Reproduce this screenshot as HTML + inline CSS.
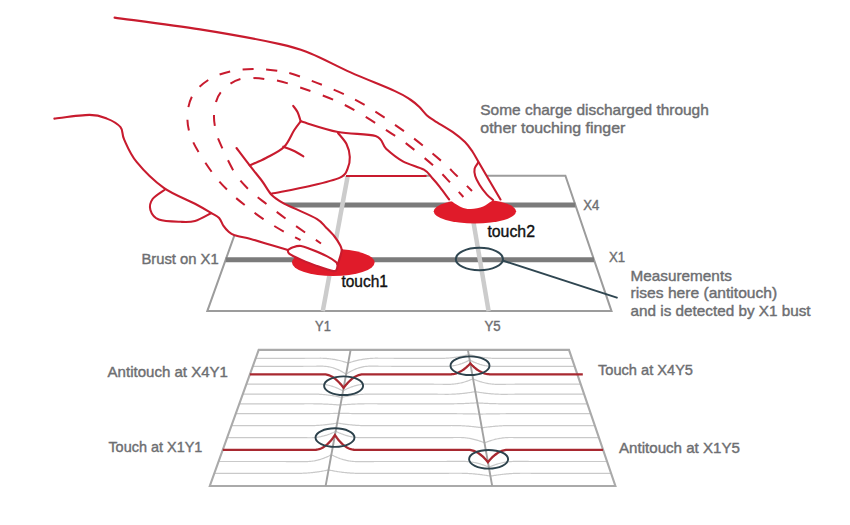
<!DOCTYPE html>
<html><head><meta charset="utf-8"><title>Touch diagram</title>
<style>html,body{margin:0;padding:0;background:#fff;} body{width:850px;height:525px;overflow:hidden;font-family:"Liberation Sans",sans-serif;} svg{display:block;}</style>
</head><body>
<svg width="850" height="525" viewBox="0 0 850 525">
<rect width="850" height="525" fill="#fff"/>
<g><path d="M255.7,175.8 L565.4,175.8 L611.5,311.1 L207.3,311.1 Z" fill="none" stroke="#9c9c9c" stroke-width="2"/><line x1="245.2" y1="205.0" x2="575.3" y2="205.0" stroke="#7b7b7b" stroke-width="5"/><line x1="225.7" y1="259.7" x2="594.0" y2="259.7" stroke="#7b7b7b" stroke-width="5"/><line x1="347.7" y1="175.8" x2="322.8" y2="311.1" stroke="#cccccc" stroke-width="4.5"/><line x1="465.6" y1="175.8" x2="488.6" y2="311.1" stroke="#cccccc" stroke-width="4.5"/></g>
<g><ellipse cx="333.3" cy="262.5" rx="41.3" ry="13.4" fill="#e01b2a"/><ellipse cx="474.9" cy="211.3" rx="41.2" ry="12.2" fill="#e01b2a"/></g>
<g><path d="M114.6,17.6 C128.8,19.6 172.4,25.0 200.0,29.4 C227.6,33.8 261.6,40.1 280.0,44.1 C298.4,48.1 298.8,48.8 310.6,53.5 C322.4,58.2 336.5,66.1 350.6,72.4 C364.7,78.7 385.1,86.6 395.0,91.1 C404.9,95.6 406.1,96.8 410.2,99.5 C414.3,102.2 416.6,104.4 419.4,107.1 C422.2,109.8 424.5,113.2 427.0,115.5 C429.5,117.8 430.3,118.0 434.6,120.8 C438.9,123.6 447.8,128.6 452.9,132.2 C458.0,135.8 461.7,138.8 465.0,142.1 C468.3,145.4 470.1,148.2 472.7,152.0 C475.2,155.8 475.7,157.1 480.3,165.0 C484.9,172.9 497.1,193.8 500.5,199.5 C499.1,199.7 494.8,199.7 491.9,200.9 C489.0,202.1 486.7,205.2 483.2,206.5 C479.7,207.8 474.5,208.9 470.8,209.0 C467.1,209.1 464.5,208.6 460.9,207.0 C457.3,205.4 451.1,200.8 449.2,199.5 C447.6,197.4 442.7,190.7 439.9,187.1 C437.1,183.5 434.9,180.9 432.2,178.0 C429.5,175.1 428.8,172.5 423.9,169.7 C419.0,166.9 409.2,164.8 402.9,161.3 C396.6,157.8 388.9,150.8 386.1,148.7 L426.5,176 L346,176 L340,177.6 C335.0,179.0 321.3,183.3 310.0,186.0 C298.7,188.7 278.3,192.2 272.0,193.5 C271.9,193.8 269.7,193.3 271.7,195.0 C273.7,196.7 280.2,201.4 284.1,203.7 C288.0,206.0 289.5,206.0 295.0,208.6 C300.5,211.2 311.9,215.9 317.1,219.1 C322.3,222.2 323.1,224.6 326.0,227.5 C328.9,230.4 332.1,233.5 334.5,236.5 C336.9,239.5 339.1,243.1 340.3,245.4 C341.5,247.7 341.6,249.3 341.8,250.1 C341.6,251.1 341.0,254.0 340.3,256.4 C339.6,258.8 338.1,263.0 337.6,264.3 C337.5,265.1 337.5,267.9 336.8,269.0 C336.1,270.1 336.8,271.6 333.4,271.1 C330.0,270.6 322.1,267.8 316.7,265.9 C311.3,264.0 305.6,261.6 301.0,259.6 C296.4,257.6 291.6,255.4 289.4,253.8 C287.2,252.2 288.1,250.7 287.9,250.1 C284.8,249.2 275.5,246.4 269.3,244.5 C263.1,242.6 256.5,240.5 250.7,238.9 C244.9,237.3 238.3,236.4 234.6,235.2 C230.9,234.0 230.2,233.1 228.4,231.5 C226.6,229.9 225.1,228.2 223.5,225.9 C221.9,223.6 221.2,220.1 219.1,217.9 C217.0,215.7 215.1,215.3 211.1,212.9 C207.1,210.5 202.9,207.9 195.0,203.7 C187.1,199.5 173.5,194.9 163.8,187.9 C154.1,180.9 143.2,170.0 136.6,161.9 C130.0,153.8 126.9,145.4 124.2,139.6 C121.5,133.8 123.4,130.7 120.5,127.2 C117.6,123.7 112.1,120.6 106.9,118.6 C101.7,116.5 98.2,114.9 89.5,114.9 C80.8,114.9 60.2,118.0 54.4,118.6 Z" fill="#fff" stroke="none"/><path d="M165.0,189.5 C162.9,191.1 155.0,195.6 152.6,199.0 C150.2,202.4 149.4,206.6 150.4,210.0 C151.4,213.4 153.8,217.5 158.8,219.5 C163.8,221.5 174.6,221.6 180.6,221.8 C186.6,222.1 189.9,222.4 195.0,221.0 C200.1,219.6 208.4,214.5 211.1,213.2 Z" fill="#fff" stroke="none"/><path d="M287.9,250.1 C288.8,249.6 290.8,247.9 293.0,247.2 C295.2,246.5 297.9,245.6 301.0,246.0 C304.1,246.4 307.0,247.9 311.4,249.6 C315.8,251.3 323.2,254.4 327.2,256.4 C331.2,258.4 333.8,260.4 335.5,261.7 C337.2,263.0 337.4,263.1 337.6,264.3 C337.8,265.5 337.5,267.9 336.8,269.0 C336.1,270.1 336.8,271.6 333.4,271.1 C330.0,270.6 322.1,267.8 316.7,265.9 C311.3,264.0 305.6,261.6 301.0,259.6 C296.4,257.6 291.6,255.4 289.4,253.8 C287.2,252.2 288.1,250.7 287.9,250.1 Z" fill="#fff" stroke="none"/><path d="M114.6,17.6 C128.8,19.6 172.4,25.0 200.0,29.4 C227.6,33.8 261.6,40.1 280.0,44.1 C298.4,48.1 298.8,48.8 310.6,53.5 C322.4,58.2 336.5,66.1 350.6,72.4 C364.7,78.7 385.1,86.6 395.0,91.1 C404.9,95.6 406.1,96.8 410.2,99.5 C414.3,102.2 416.6,104.4 419.4,107.1 C422.2,109.8 424.5,113.2 427.0,115.5 C429.5,117.8 430.3,118.0 434.6,120.8 C438.9,123.6 447.8,128.6 452.9,132.2 C458.0,135.8 461.7,138.8 465.0,142.1 C468.3,145.4 470.1,148.2 472.7,152.0 C475.2,155.8 475.7,157.1 480.3,165.0 C484.9,172.9 497.1,193.8 500.5,199.5" fill="none" stroke="#c81b2e" stroke-width="2.1" stroke-linecap="round" stroke-linejoin="round"/><path d="M300.7,121.3 C306.9,123.1 325.5,129.5 338.0,132.0 C350.5,134.5 367.6,133.3 375.6,136.1 C383.6,138.9 381.6,144.5 386.1,148.7 C390.7,152.9 396.6,157.8 402.9,161.3 C409.2,164.8 419.0,166.9 423.9,169.7 C428.8,172.5 429.5,175.1 432.2,178.0 C434.9,180.9 437.1,183.5 439.9,187.1 C442.7,190.7 447.6,197.4 449.2,199.5" fill="none" stroke="#c81b2e" stroke-width="2.1" stroke-linecap="round" stroke-linejoin="round"/><path d="M338.0,133.0 C339.4,134.8 344.5,140.0 346.5,144.0 C348.5,148.0 349.6,152.8 349.8,157.0 C350.0,161.2 349.1,165.6 347.5,169.0 C345.9,172.4 346.2,174.8 340.0,177.6 C333.8,180.4 321.3,183.3 310.0,186.0 C298.7,188.7 278.3,192.2 272.0,193.5" fill="none" stroke="#c81b2e" stroke-width="2.1" stroke-linecap="round" stroke-linejoin="round"/><path d="M236.5,148.0 C238.7,150.9 245.4,159.9 249.7,165.4 C253.9,170.9 258.3,176.1 262.0,181.0 C265.7,185.9 268.0,191.2 271.7,195.0 C275.4,198.8 280.2,201.4 284.1,203.7 C288.0,206.0 289.5,206.0 295.0,208.6 C300.5,211.2 311.9,215.9 317.1,219.1 C322.3,222.2 323.1,224.6 326.0,227.5 C328.9,230.4 332.1,233.5 334.5,236.5 C336.9,239.5 339.1,243.1 340.3,245.4 C341.5,247.7 341.6,249.3 341.8,250.1" fill="none" stroke="#c81b2e" stroke-width="2.1" stroke-linecap="round" stroke-linejoin="round"/><path d="M341.8,250.1 C341.6,251.1 341.0,254.0 340.3,256.4 C339.6,258.8 338.1,263.0 337.6,264.3" fill="none" stroke="#c81b2e" stroke-width="2.1" stroke-linecap="round" stroke-linejoin="round"/><path d="M287.9,250.1 C288.8,249.6 290.8,247.9 293.0,247.2 C295.2,246.5 297.9,245.6 301.0,246.0 C304.1,246.4 307.0,247.9 311.4,249.6 C315.8,251.3 323.2,254.4 327.2,256.4 C331.2,258.4 333.8,260.4 335.5,261.7 C337.2,263.0 337.2,263.9 337.6,264.3" fill="none" stroke="#c81b2e" stroke-width="2.1" stroke-linecap="round" stroke-linejoin="round"/><path d="M337.6,264.3 C337.5,265.1 337.5,267.9 336.8,269.0 C336.1,270.1 336.8,271.6 333.4,271.1 C330.0,270.6 322.1,267.8 316.7,265.9 C311.3,264.0 305.6,261.6 301.0,259.6 C296.4,257.6 291.6,255.4 289.4,253.8 C287.2,252.2 288.1,250.7 287.9,250.1" fill="none" stroke="#c81b2e" stroke-width="2.1" stroke-linecap="round" stroke-linejoin="round"/><path d="M54.4,118.6 C60.2,118.0 80.8,114.9 89.5,114.9 C98.2,114.9 101.7,116.5 106.9,118.6 C112.1,120.6 117.6,123.7 120.5,127.2 C123.4,130.7 121.5,133.8 124.2,139.6 C126.9,145.4 130.0,153.8 136.6,161.9 C143.2,170.0 154.1,180.9 163.8,187.9 C173.5,194.9 187.1,199.5 195.0,203.7 C202.9,207.9 207.1,210.5 211.1,212.9 C215.1,215.3 217.0,215.7 219.1,217.9 C221.2,220.1 221.9,223.6 223.5,225.9 C225.1,228.2 226.6,229.9 228.4,231.5 C230.2,233.1 230.9,234.0 234.6,235.2 C238.3,236.4 244.9,237.3 250.7,238.9 C256.5,240.5 263.1,242.6 269.3,244.5 C275.5,246.4 284.8,249.2 287.9,250.1" fill="none" stroke="#c81b2e" stroke-width="2.1" stroke-linecap="round" stroke-linejoin="round"/><path d="M165.0,189.5 C162.9,191.1 155.0,195.6 152.6,199.0 C150.2,202.4 149.4,206.6 150.4,210.0 C151.4,213.4 153.8,217.5 158.8,219.5 C163.8,221.5 174.6,221.6 180.6,221.8 C186.6,222.1 189.9,222.4 195.0,221.0 C200.1,219.6 208.4,214.5 211.1,213.2" fill="none" stroke="#c81b2e" stroke-width="2.1" stroke-linecap="round" stroke-linejoin="round"/><path d="M293.2,105.9 C293.9,106.9 296.2,109.4 297.5,112.0 C298.8,114.6 300.2,119.8 300.7,121.3" fill="none" stroke="#c81b2e" stroke-width="2.1" stroke-linecap="round" stroke-linejoin="round"/><path d="M300.7,121.3 C299.6,122.8 297.1,125.7 294.3,130.0 C291.5,134.3 288.7,142.4 284.0,147.1 C279.3,151.8 271.7,154.9 266.0,158.0 C260.3,161.1 252.4,164.2 249.7,165.4" fill="none" stroke="#c81b2e" stroke-width="2.1" stroke-linecap="round" stroke-linejoin="round"/><path d="M283.3,146.7 C284.9,147.3 289.6,148.9 293.0,150.5 C296.4,152.1 301.7,155.3 303.4,156.3" fill="none" stroke="#c81b2e" stroke-width="2.1" stroke-linecap="round" stroke-linejoin="round"/><path d="M478.3,162.4 C477.7,163.4 475.1,166.3 474.6,168.6 C474.1,170.9 474.4,173.3 475.2,176.0 C476.0,178.7 477.6,181.6 479.5,184.7 C481.4,187.8 484.6,192.0 486.9,194.6 C489.2,197.2 492.1,199.2 493.1,200.1" fill="none" stroke="#c81b2e" stroke-width="2.1" stroke-linecap="round" stroke-linejoin="round"/><path d="M426.5,176 L346,176" fill="none" stroke="#c81b2e" stroke-width="2"/><path id="od" d="M472.0,191.0 C469.3,188.3 461.1,179.9 456.0,175.0 C450.9,170.1 450.2,168.5 441.7,161.3 C433.2,154.1 419.5,142.2 405.0,131.9 C390.5,121.6 372.2,108.6 354.7,99.4 C337.2,90.2 313.3,81.3 300.0,76.5 C286.7,71.7 282.8,71.7 275.0,70.5 C267.2,69.3 260.6,68.9 253.1,69.1 C245.6,69.2 237.7,69.6 230.2,71.4 C222.7,73.2 214.7,75.9 208.3,80.0 C202.0,84.1 195.6,89.7 192.1,96.2 C188.6,102.7 187.2,111.4 187.4,119.0 C187.6,126.6 189.0,133.0 193.1,141.9 C197.2,150.8 206.2,164.2 212.0,172.3 C217.8,180.4 222.5,185.1 228.0,190.6 C233.5,196.1 239.2,200.7 245.1,205.4 C251.0,210.2 256.9,214.7 263.4,219.1 C269.9,223.5 277.8,228.2 284.0,231.7 C290.2,235.2 297.8,238.6 300.5,240.0" fill="none" stroke="#c81b2e" stroke-width="2" stroke-dasharray="11 12.6" stroke-dashoffset="3.6"/><path id="id" d="M463.4,197.0 C461.3,194.7 456.0,188.7 451.0,183.4 C446.0,178.2 440.7,172.1 433.3,165.5 C425.9,158.9 412.7,148.5 406.4,143.6 C400.1,138.7 406.0,142.6 395.6,136.1 C385.2,129.6 362.1,113.5 344.2,104.7 C326.3,95.9 301.5,87.8 288.2,83.5 C274.9,79.2 270.4,79.9 264.5,79.0 C258.6,78.1 257.1,78.1 253.1,78.1 C249.1,78.1 244.5,78.0 240.7,79.0 C236.9,80.0 233.5,81.6 230.2,83.8 C226.9,86.0 223.1,89.4 220.7,92.4 C218.3,95.4 217.1,98.1 216.0,101.9 C214.9,105.7 214.2,111.1 214.0,115.2 C213.8,119.3 214.3,122.9 215.0,126.7 C215.7,130.5 214.8,130.7 217.9,138.1 C221.0,145.5 228.6,162.5 233.7,171.1 C238.8,179.7 243.1,183.9 248.6,189.4 C254.1,194.9 260.6,199.4 266.9,204.3 C273.2,209.2 279.8,214.3 286.3,219.1 C292.8,223.9 299.9,228.8 305.7,232.9 C311.5,237.0 318.4,241.7 321.0,243.5" fill="none" stroke="#c81b2e" stroke-width="2" stroke-dasharray="11 13" stroke-dashoffset="4.0"/></g>
<g><ellipse cx="479.4" cy="259" rx="23.6" ry="11.2" fill="none" stroke="#2f4651" stroke-width="2"/><line x1="502.5" y1="260.5" x2="617.6" y2="297.9" stroke="#2f4651" stroke-width="2"/></g>
<g><path d="M255.7,358.30 L283.35,358.30 L284.35,358.30 L285.35,358.30 L286.35,358.30 L287.35,358.30 L288.35,358.30 L289.35,358.30 L290.35,358.30 L291.35,358.30 L292.35,358.30 L293.35,358.29 L294.35,358.29 L295.35,358.29 L296.35,358.29 L297.35,358.29 L298.35,358.29 L299.35,358.29 L300.35,358.28 L301.35,358.28 L302.35,358.28 L303.35,358.28 L304.35,358.28 L305.35,358.27 L306.35,358.27 L307.35,358.27 L308.35,358.27 L309.35,358.26 L310.35,358.26 L311.35,358.26 L312.35,358.25 L313.35,358.25 L314.35,358.25 L315.35,358.24 L316.35,358.24 L317.35,358.24 L318.35,358.23 L319.35,358.23 L320.35,358.22 L321.35,358.23 L322.35,358.25 L323.35,358.28 L324.35,358.32 L325.35,358.38 L326.35,358.45 L327.35,358.53 L328.35,358.62 L329.35,358.73 L330.35,358.85 L331.35,358.98 L332.35,359.13 L333.35,359.29 L334.35,359.46 L335.35,359.64 L336.35,359.84 L337.35,360.05 L338.35,360.27 L339.35,360.51 L340.35,360.75 L341.35,361.01 L342.35,361.29 L343.35,361.57 L344.35,361.87 L345.35,362.19 L346.35,362.51 L347.35,362.85 L348.13,363.12 L348.35,363.04 L349.10,362.77 L349.35,362.68 L350.35,362.35 L351.35,362.03 L352.35,361.73 L353.35,361.43 L354.35,361.15 L355.35,360.89 L356.35,360.63 L357.35,360.39 L358.35,360.16 L359.35,359.94 L360.35,359.74 L361.35,359.55 L362.35,359.37 L363.35,359.20 L364.35,359.05 L365.35,358.91 L366.35,358.78 L367.35,358.67 L368.35,358.57 L369.35,358.48 L370.35,358.40 L371.35,358.34 L372.35,358.29 L373.35,358.25 L374.35,358.23 L375.35,358.22 L376.35,358.22 L377.35,358.22 L378.35,358.23 L379.35,358.23 L380.35,358.23 L381.35,358.24 L382.35,358.24 L383.35,358.24 L384.35,358.25 L385.35,358.25 L386.35,358.25 L387.35,358.26 L388.35,358.26 L389.35,358.26 L390.35,358.27 L391.35,358.27 L392.35,358.27 L393.35,358.27 L394.35,358.28 L395.35,358.28 L396.35,358.28 L397.35,358.28 L398.35,358.28 L399.35,358.29 L400.35,358.29 L401.35,358.29 L402.35,358.29 L403.35,358.29 L404.35,358.29 L405.35,358.30 L406.35,358.30 L407.35,358.30 L408.35,358.30 L409.35,358.30 L410.35,358.30 L411.35,358.30 L412.35,358.30 L413.35,358.30 L414.35,358.31 L415.35,358.31 L416.35,358.31 L417.35,358.31 L418.35,358.31 L419.35,358.31 L420.35,358.31 L421.35,358.31 L422.35,358.32 L423.35,358.32 L424.35,358.32 L425.35,358.32 L426.35,358.32 L427.35,358.33 L428.35,358.33 L429.35,358.33 L430.35,358.33 L431.35,358.34 L432.35,358.34 L433.35,358.34 L434.35,358.34 L435.35,358.35 L436.35,358.35 L437.35,358.35 L438.35,358.36 L439.35,358.36 L440.35,358.36 L441.35,358.36 L442.35,358.36 L443.35,358.34 L444.35,358.31 L445.35,358.27 L446.35,358.22 L447.35,358.16 L448.35,358.09 L449.35,358.01 L450.35,357.92 L451.35,357.82 L452.35,357.71 L453.35,357.59 L454.35,357.45 L455.35,357.31 L456.35,357.16 L457.35,357.00 L458.35,356.83 L459.35,356.64 L460.35,356.45 L461.35,356.25 L462.35,356.03 L463.35,355.81 L464.35,355.58 L465.35,355.33 L466.35,355.08 L467.35,354.81 L468.35,354.54 L468.68,354.45 L469.35,354.64 L469.44,354.67 L470.35,354.92 L471.35,355.18 L472.35,355.43 L473.35,355.67 L474.35,355.90 L475.35,356.12 L476.35,356.33 L477.35,356.53 L478.35,356.72 L479.35,356.89 L480.35,357.06 L481.35,357.22 L482.35,357.37 L483.35,357.51 L484.35,357.64 L485.35,357.75 L486.35,357.86 L487.35,357.96 L488.35,358.04 L489.35,358.12 L490.35,358.19 L491.35,358.24 L492.35,358.29 L493.35,358.32 L494.35,358.35 L495.35,358.37 L496.35,358.37 L497.35,358.37 L498.35,358.36 L499.35,358.36 L500.35,358.36 L501.35,358.35 L502.35,358.35 L503.35,358.35 L504.35,358.34 L505.35,358.34 L506.35,358.34 L507.35,358.34 L508.35,358.33 L509.35,358.33 L510.35,358.33 L511.35,358.33 L512.35,358.32 L513.35,358.32 L514.35,358.32 L515.35,358.32 L516.35,358.32 L517.35,358.31 L518.35,358.31 L519.35,358.31 L520.35,358.31 L521.35,358.31 L522.35,358.31 L523.35,358.31 L524.35,358.31 L525.35,358.30 L526.35,358.30 L527.35,358.30 L528.35,358.30 L529.35,358.30 L530.35,358.30 L531.35,358.30 L532.35,358.30 L533.35,358.30 L534.35,358.30 L535.19,358.30 L571.86,358.30" fill="none" stroke="#c9c9c9" stroke-width="1.2"/><path d="M252.8,366.30 L285.90,366.30 L286.90,366.30 L287.90,366.30 L288.90,366.30 L289.90,366.30 L290.90,366.30 L291.90,366.30 L292.90,366.30 L293.90,366.29 L294.90,366.29 L295.90,366.29 L296.90,366.29 L297.90,366.29 L298.90,366.29 L299.90,366.28 L300.90,366.28 L301.90,366.28 L302.90,366.28 L303.90,366.27 L304.90,366.27 L305.90,366.27 L306.90,366.26 L307.90,366.26 L308.90,366.26 L309.90,366.25 L310.90,366.25 L311.90,366.25 L312.90,366.24 L313.90,366.24 L314.90,366.23 L315.90,366.23 L316.90,366.22 L317.90,366.22 L318.90,366.21 L319.90,366.21 L320.90,366.20 L321.90,366.20 L322.90,366.20 L323.90,366.23 L324.90,366.29 L325.90,366.38 L326.90,366.50 L327.90,366.64 L328.90,366.81 L329.90,367.01 L330.90,367.24 L331.90,367.50 L332.90,367.79 L333.90,368.10 L334.90,368.45 L335.90,368.82 L336.90,369.22 L337.90,369.64 L338.90,370.10 L339.90,370.58 L340.90,371.10 L341.90,371.64 L342.90,372.21 L343.90,372.80 L344.90,373.43 L345.90,374.08 L346.08,374.21 L346.90,373.65 L347.65,373.16 L347.90,373.00 L348.90,372.39 L349.90,371.81 L350.90,371.26 L351.90,370.74 L352.90,370.25 L353.90,369.78 L354.90,369.34 L355.90,368.93 L356.90,368.55 L357.90,368.20 L358.90,367.88 L359.90,367.58 L360.90,367.31 L361.90,367.07 L362.90,366.86 L363.90,366.68 L364.90,366.52 L365.90,366.40 L366.90,366.30 L367.90,366.23 L368.90,366.19 L369.90,366.18 L370.90,366.18 L371.90,366.19 L372.90,366.19 L373.90,366.20 L374.90,366.20 L375.90,366.21 L376.90,366.22 L377.90,366.22 L378.90,366.23 L379.90,366.23 L380.90,366.23 L381.90,366.24 L382.90,366.24 L383.90,366.25 L384.90,366.25 L385.90,366.26 L386.90,366.26 L387.90,366.26 L388.90,366.27 L389.90,366.27 L390.90,366.27 L391.90,366.28 L392.90,366.28 L393.90,366.28 L394.90,366.28 L395.90,366.29 L396.90,366.29 L397.90,366.29 L398.90,366.29 L399.90,366.29 L400.90,366.29 L401.90,366.30 L402.90,366.30 L403.90,366.30 L404.90,366.30 L405.90,366.30 L406.90,366.30 L407.90,366.30 L408.90,366.30 L409.90,366.30 L410.90,366.30 L411.90,366.30 L412.90,366.30 L413.90,366.30 L414.90,366.30 L415.90,366.30 L416.90,366.30 L417.90,366.31 L418.90,366.31 L419.90,366.31 L420.90,366.31 L421.90,366.31 L422.90,366.31 L423.90,366.31 L424.90,366.32 L425.90,366.32 L426.90,366.32 L427.90,366.32 L428.90,366.33 L429.90,366.33 L430.90,366.33 L431.90,366.33 L432.90,366.34 L433.90,366.34 L434.90,366.34 L435.90,366.35 L436.90,366.35 L437.90,366.36 L438.90,366.36 L439.90,366.36 L440.90,366.37 L441.90,366.37 L442.90,366.38 L443.90,366.38 L444.90,366.39 L445.90,366.39 L446.90,366.38 L447.90,366.34 L448.90,366.29 L449.90,366.21 L450.90,366.10 L451.90,365.98 L452.90,365.83 L453.90,365.66 L454.90,365.47 L455.90,365.25 L456.90,365.01 L457.90,364.75 L458.90,364.46 L459.90,364.16 L460.90,363.83 L461.90,363.48 L462.90,363.10 L463.90,362.70 L464.90,362.28 L465.90,361.84 L466.90,361.37 L467.90,360.89 L468.90,360.38 L469.65,359.98 L469.90,360.11 L470.87,360.63 L470.90,360.65 L471.90,361.15 L472.90,361.63 L473.90,362.08 L474.90,362.51 L475.90,362.92 L476.90,363.31 L477.90,363.67 L478.90,364.01 L479.90,364.33 L480.90,364.62 L481.90,364.90 L482.90,365.15 L483.90,365.37 L484.90,365.58 L485.90,365.76 L486.90,365.92 L487.90,366.06 L488.90,366.17 L489.90,366.26 L490.90,366.33 L491.90,366.38 L492.90,366.40 L493.90,366.40 L494.90,366.40 L495.90,366.39 L496.90,366.39 L497.90,366.38 L498.90,366.38 L499.90,366.37 L500.90,366.37 L501.90,366.36 L502.90,366.36 L503.90,366.36 L504.90,366.35 L505.90,366.35 L506.90,366.34 L507.90,366.34 L508.90,366.34 L509.90,366.33 L510.90,366.33 L511.90,366.33 L512.90,366.33 L513.90,366.32 L514.90,366.32 L515.90,366.32 L516.90,366.32 L517.90,366.31 L518.90,366.31 L519.90,366.31 L520.90,366.31 L521.90,366.31 L522.90,366.31 L523.90,366.31 L524.90,366.30 L525.90,366.30 L526.90,366.30 L527.90,366.30 L528.90,366.30 L529.90,366.30 L530.90,366.30 L531.90,366.30 L532.62,366.30 L574.59,366.30" fill="none" stroke="#c9c9c9" stroke-width="1.2"/><path d="M246.4,384.20 L291.60,384.20 L292.60,384.20 L293.60,384.20 L294.60,384.20 L295.60,384.20 L296.60,384.20 L297.60,384.19 L298.60,384.19 L299.60,384.19 L300.60,384.18 L301.60,384.18 L302.60,384.18 L303.60,384.17 L304.60,384.17 L305.60,384.16 L306.60,384.16 L307.60,384.15 L308.60,384.14 L309.60,384.14 L310.60,384.13 L311.60,384.12 L312.60,384.11 L313.60,384.11 L314.60,384.10 L315.60,384.09 L316.60,384.08 L317.60,384.07 L318.60,384.06 L319.60,384.08 L320.60,384.11 L321.60,384.18 L322.60,384.26 L323.60,384.37 L324.60,384.50 L325.60,384.65 L326.60,384.83 L327.60,385.02 L328.60,385.25 L329.60,385.49 L330.60,385.76 L331.60,386.05 L332.60,386.37 L333.60,386.70 L334.60,387.06 L335.60,387.45 L336.60,387.85 L337.60,388.28 L338.60,388.73 L339.60,389.21 L340.60,389.71 L341.60,390.23 L342.60,390.77 L342.96,390.98 L343.60,390.60 L344.40,390.13 L344.60,390.03 L345.60,389.51 L346.60,389.02 L347.60,388.55 L348.60,388.11 L349.60,387.69 L350.60,387.29 L351.60,386.91 L352.60,386.56 L353.60,386.23 L354.60,385.92 L355.60,385.64 L356.60,385.38 L357.60,385.14 L358.60,384.93 L359.60,384.73 L360.60,384.57 L361.60,384.42 L362.60,384.30 L363.60,384.20 L364.60,384.12 L365.60,384.07 L366.60,384.04 L367.60,384.03 L368.60,384.04 L369.60,384.05 L370.60,384.06 L371.60,384.07 L372.60,384.08 L373.60,384.09 L374.60,384.10 L375.60,384.11 L376.60,384.12 L377.60,384.13 L378.60,384.13 L379.60,384.14 L380.60,384.15 L381.60,384.15 L382.60,384.16 L383.60,384.16 L384.60,384.17 L385.60,384.17 L386.60,384.18 L387.60,384.18 L388.60,384.19 L389.60,384.19 L390.60,384.19 L391.60,384.19 L392.60,384.20 L393.60,384.20 L394.60,384.20 L395.60,384.20 L396.60,384.20 L397.20,384.20 L421.30,384.20 L422.30,384.20 L423.30,384.20 L424.30,384.20 L425.30,384.20 L426.30,384.20 L427.30,384.21 L428.30,384.21 L429.30,384.21 L430.30,384.21 L431.30,384.22 L432.30,384.22 L433.30,384.22 L434.30,384.23 L435.30,384.23 L436.30,384.24 L437.30,384.24 L438.30,384.25 L439.30,384.25 L440.30,384.26 L441.30,384.27 L442.30,384.27 L443.30,384.28 L444.30,384.29 L445.30,384.29 L446.30,384.30 L447.30,384.31 L448.30,384.32 L449.30,384.31 L450.30,384.29 L451.30,384.25 L452.30,384.19 L453.30,384.11 L454.30,384.01 L455.30,383.89 L456.30,383.76 L457.30,383.60 L458.30,383.43 L459.30,383.24 L460.30,383.03 L461.30,382.81 L462.30,382.56 L463.30,382.30 L464.30,382.02 L465.30,381.71 L466.30,381.40 L467.30,381.06 L468.30,380.70 L469.30,380.33 L470.30,379.93 L471.30,379.52 L472.30,379.09 L472.98,378.79 L473.30,378.95 L474.10,379.32 L474.30,379.41 L475.30,379.83 L476.30,380.22 L477.30,380.61 L478.30,380.97 L479.30,381.31 L480.30,381.64 L481.30,381.94 L482.30,382.23 L483.30,382.50 L484.30,382.75 L485.30,382.98 L486.30,383.20 L487.30,383.39 L488.30,383.57 L489.30,383.73 L490.30,383.87 L491.30,383.99 L492.30,384.10 L493.30,384.18 L494.30,384.25 L495.30,384.30 L496.30,384.33 L497.30,384.34 L498.30,384.33 L499.30,384.32 L500.30,384.32 L501.30,384.31 L502.30,384.30 L503.30,384.29 L504.30,384.28 L505.30,384.28 L506.30,384.27 L507.30,384.26 L508.30,384.26 L509.30,384.25 L510.30,384.24 L511.30,384.24 L512.30,384.23 L513.30,384.23 L514.30,384.23 L515.30,384.22 L516.30,384.22 L517.30,384.22 L518.30,384.21 L519.30,384.21 L520.30,384.21 L521.30,384.21 L522.30,384.20 L523.30,384.20 L524.30,384.20 L525.30,384.20 L526.30,384.20 L526.90,384.20 L580.70,384.20" fill="none" stroke="#c9c9c9" stroke-width="1.2"/><path d="M242.8,394.20 L294.81,394.20 L295.81,394.20 L296.81,394.20 L297.81,394.20 L298.81,394.19 L299.81,394.19 L300.81,394.19 L301.81,394.18 L302.81,394.18 L303.81,394.17 L304.81,394.17 L305.81,394.16 L306.81,394.15 L307.81,394.14 L308.81,394.13 L309.81,394.12 L310.81,394.11 L311.81,394.10 L312.81,394.09 L313.81,394.09 L314.81,394.10 L315.81,394.12 L316.81,394.15 L317.81,394.18 L318.81,394.22 L319.81,394.28 L320.81,394.33 L321.81,394.40 L322.81,394.48 L323.81,394.56 L324.81,394.65 L325.81,394.75 L326.81,394.86 L327.81,394.98 L328.81,395.11 L329.81,395.24 L330.81,395.38 L331.81,395.53 L332.81,395.69 L333.81,395.86 L334.81,396.03 L335.81,396.22 L336.81,396.41 L337.81,396.61 L338.81,396.82 L339.81,397.04 L340.81,397.26 L341.73,397.47 L341.81,397.45 L342.61,397.21 L342.81,397.17 L343.81,396.94 L344.81,396.73 L345.81,396.52 L346.81,396.33 L347.81,396.14 L348.81,395.96 L349.81,395.78 L350.81,395.62 L351.81,395.46 L352.81,395.31 L353.81,395.17 L354.81,395.04 L355.81,394.92 L356.81,394.81 L357.81,394.70 L358.81,394.60 L359.81,394.51 L360.81,394.43 L361.81,394.36 L362.81,394.29 L363.81,394.24 L364.81,394.19 L365.81,394.15 L366.81,394.12 L367.81,394.09 L368.81,394.08 L369.81,394.07 L370.81,394.07 L371.81,394.08 L372.81,394.09 L373.81,394.11 L374.81,394.12 L375.81,394.13 L376.81,394.14 L377.81,394.15 L378.81,394.15 L379.81,394.16 L380.81,394.17 L381.81,394.17 L382.81,394.18 L383.81,394.19 L384.81,394.19 L385.81,394.19 L386.81,394.20 L387.81,394.20 L388.81,394.20 L389.81,394.20 L390.41,394.20 L428.12,394.20 L429.12,394.20 L430.12,394.20 L431.12,394.20 L432.12,394.20 L433.12,394.21 L434.12,394.21 L435.12,394.21 L436.12,394.22 L437.12,394.22 L438.12,394.23 L439.12,394.23 L440.12,394.24 L441.12,394.25 L442.12,394.26 L443.12,394.26 L444.12,394.27 L445.12,394.28 L446.12,394.29 L447.12,394.29 L448.12,394.29 L449.12,394.27 L450.12,394.25 L451.12,394.23 L452.12,394.20 L453.12,394.16 L454.12,394.11 L455.12,394.06 L456.12,394.00 L457.12,393.94 L458.12,393.86 L459.12,393.79 L460.12,393.70 L461.12,393.61 L462.12,393.51 L463.12,393.41 L464.12,393.29 L465.12,393.18 L466.12,393.05 L467.12,392.92 L468.12,392.78 L469.12,392.64 L470.12,392.48 L471.12,392.33 L472.12,392.16 L473.12,391.99 L474.12,391.81 L475.12,391.63 L475.23,391.61 L475.92,391.77 L476.12,391.81 L477.12,391.99 L478.12,392.16 L479.12,392.33 L480.12,392.48 L481.12,392.64 L482.12,392.78 L483.12,392.92 L484.12,393.05 L485.12,393.18 L486.12,393.30 L487.12,393.41 L488.12,393.52 L489.12,393.62 L490.12,393.71 L491.12,393.79 L492.12,393.87 L493.12,393.95 L494.12,394.01 L495.12,394.07 L496.12,394.12 L497.12,394.17 L498.12,394.21 L499.12,394.24 L500.12,394.27 L501.12,394.29 L502.12,394.30 L503.12,394.31 L504.12,394.31 L505.12,394.30 L506.12,394.29 L507.12,394.28 L508.12,394.27 L509.12,394.26 L510.12,394.25 L511.12,394.25 L512.12,394.24 L513.12,394.23 L514.12,394.23 L515.12,394.22 L516.12,394.22 L517.12,394.21 L518.12,394.21 L519.12,394.21 L520.12,394.20 L521.12,394.20 L522.12,394.20 L523.12,394.20 L523.72,394.20 L584.11,394.20" fill="none" stroke="#c9c9c9" stroke-width="1.2"/><path d="M239.3,403.80 L297.92,403.80 L298.92,403.80 L299.92,403.80 L300.92,403.79 L301.92,403.79 L302.92,403.78 L303.92,403.78 L304.92,403.77 L305.92,403.76 L306.92,403.75 L307.92,403.75 L308.92,403.75 L309.92,403.75 L310.92,403.75 L311.92,403.76 L312.92,403.77 L313.92,403.78 L314.92,403.79 L315.92,403.81 L316.92,403.83 L317.92,403.85 L318.92,403.88 L319.92,403.90 L320.92,403.93 L321.92,403.97 L322.92,404.00 L323.92,404.04 L324.92,404.08 L325.92,404.13 L326.92,404.17 L327.92,404.22 L328.92,404.27 L329.92,404.33 L330.92,404.39 L331.92,404.45 L332.92,404.51 L333.92,404.57 L334.92,404.64 L335.92,404.71 L336.92,404.79 L337.92,404.86 L338.92,404.94 L339.92,405.02 L340.27,405.05 L340.92,404.93 L341.92,404.85 L342.92,404.77 L343.92,404.70 L344.92,404.63 L345.92,404.56 L346.92,404.49 L347.92,404.43 L348.92,404.37 L349.92,404.31 L350.92,404.26 L351.92,404.21 L352.92,404.16 L353.92,404.11 L354.92,404.07 L355.92,404.02 L356.92,403.99 L357.92,403.95 L358.92,403.92 L359.92,403.89 L360.92,403.86 L361.92,403.83 L362.92,403.81 L363.92,403.79 L364.92,403.77 L365.92,403.76 L366.92,403.75 L367.92,403.74 L368.92,403.73 L369.92,403.73 L370.92,403.73 L371.92,403.73 L372.92,403.73 L373.92,403.74 L374.92,403.75 L375.92,403.76 L376.92,403.77 L377.92,403.78 L378.92,403.78 L379.92,403.79 L380.92,403.79 L381.92,403.80 L382.92,403.80 L383.92,403.80 L434.70,403.80 L435.70,403.80 L436.70,403.80 L437.70,403.80 L438.70,403.81 L439.70,403.81 L440.70,403.82 L441.70,403.83 L442.70,403.83 L443.70,403.84 L444.70,403.84 L445.70,403.85 L446.70,403.85 L447.70,403.85 L448.70,403.84 L449.70,403.84 L450.70,403.83 L451.70,403.82 L452.70,403.80 L453.70,403.79 L454.70,403.77 L455.70,403.75 L456.70,403.73 L457.70,403.71 L458.70,403.69 L459.70,403.66 L460.70,403.63 L461.70,403.60 L462.70,403.56 L463.70,403.53 L464.70,403.49 L465.70,403.45 L466.70,403.41 L467.70,403.37 L468.70,403.32 L469.70,403.27 L470.70,403.22 L471.70,403.17 L472.70,403.11 L473.70,403.06 L474.70,403.00 L475.70,402.94 L476.70,402.87 L477.18,402.84 L477.70,402.92 L478.70,402.99 L479.70,403.04 L480.70,403.10 L481.70,403.16 L482.70,403.21 L483.70,403.26 L484.70,403.31 L485.70,403.36 L486.70,403.40 L487.70,403.45 L488.70,403.49 L489.70,403.53 L490.70,403.56 L491.70,403.60 L492.70,403.63 L493.70,403.66 L494.70,403.69 L495.70,403.71 L496.70,403.74 L497.70,403.76 L498.70,403.78 L499.70,403.80 L500.70,403.81 L501.70,403.82 L502.70,403.84 L503.70,403.85 L504.70,403.85 L505.70,403.86 L506.70,403.86 L507.70,403.86 L508.70,403.86 L509.70,403.86 L510.70,403.85 L511.70,403.84 L512.70,403.83 L513.70,403.83 L514.70,403.82 L515.70,403.81 L516.70,403.81 L517.70,403.80 L518.70,403.80 L519.70,403.80 L520.70,403.80 L587.38,403.80" fill="none" stroke="#c9c9c9" stroke-width="1.2"/><path d="M235.8,413.70 L298.92,413.70 L299.92,413.70 L300.92,413.70 L301.92,413.71 L302.92,413.71 L303.92,413.71 L304.92,413.72 L305.92,413.72 L306.92,413.72 L307.92,413.72 L308.92,413.72 L309.92,413.71 L310.92,413.71 L311.92,413.71 L312.92,413.71 L313.92,413.70 L314.92,413.70 L315.92,413.69 L316.92,413.68 L317.92,413.68 L318.92,413.67 L319.92,413.66 L320.92,413.65 L321.92,413.64 L322.92,413.63 L323.92,413.62 L324.92,413.61 L325.92,413.59 L326.92,413.58 L327.92,413.57 L328.92,413.55 L329.92,413.54 L330.92,413.52 L331.92,413.50 L332.92,413.48 L333.92,413.47 L334.92,413.45 L335.92,413.43 L336.92,413.41 L337.92,413.39 L338.62,413.37 L338.92,413.32 L339.22,413.27 L339.92,413.29 L340.92,413.31 L341.92,413.33 L342.92,413.35 L343.92,413.38 L344.92,413.40 L345.92,413.42 L346.92,413.44 L347.92,413.46 L348.92,413.47 L349.92,413.49 L350.92,413.51 L351.92,413.53 L352.92,413.54 L353.92,413.56 L354.92,413.57 L355.92,413.58 L356.92,413.60 L357.92,413.61 L358.92,413.62 L359.92,413.63 L360.92,413.64 L361.92,413.65 L362.92,413.66 L363.92,413.66 L364.92,413.67 L365.92,413.68 L366.92,413.68 L367.92,413.69 L368.92,413.69 L369.92,413.70 L370.92,413.70 L371.92,413.70 L372.92,413.70 L373.92,413.70 L374.92,413.70 L375.92,413.70 L376.92,413.70 L377.92,413.70 L378.32,413.70 L439.38,413.70 L440.38,413.70 L441.38,413.70 L442.38,413.69 L443.38,413.69 L444.38,413.69 L445.38,413.69 L446.38,413.69 L447.38,413.69 L448.38,413.69 L449.38,413.69 L450.38,413.69 L451.38,413.70 L452.38,413.70 L453.38,413.70 L454.38,413.71 L455.38,413.72 L456.38,413.72 L457.38,413.73 L458.38,413.74 L459.38,413.74 L460.38,413.75 L461.38,413.76 L462.38,413.77 L463.38,413.78 L464.38,413.79 L465.38,413.81 L466.38,413.82 L467.38,413.83 L468.38,413.85 L469.38,413.86 L470.38,413.88 L471.38,413.89 L472.38,413.91 L473.38,413.93 L474.38,413.94 L475.38,413.96 L476.38,413.98 L477.38,414.00 L478.38,414.02 L479.08,414.04 L479.38,414.08 L479.56,414.10 L480.38,414.09 L481.38,414.06 L482.38,414.04 L483.38,414.02 L484.38,414.00 L485.38,413.98 L486.38,413.96 L487.38,413.94 L488.38,413.93 L489.38,413.91 L490.38,413.89 L491.38,413.88 L492.38,413.86 L493.38,413.85 L494.38,413.83 L495.38,413.82 L496.38,413.81 L497.38,413.80 L498.38,413.79 L499.38,413.78 L500.38,413.77 L501.38,413.76 L502.38,413.75 L503.38,413.74 L504.38,413.73 L505.38,413.73 L506.38,413.72 L507.38,413.72 L508.38,413.71 L509.38,413.71 L510.38,413.70 L511.38,413.70 L512.38,413.70 L513.38,413.70 L514.38,413.70 L515.38,413.70 L516.38,413.70 L517.38,413.70 L518.38,413.70 L518.78,413.70 L590.76,413.70" fill="none" stroke="#c9c9c9" stroke-width="1.2"/><path d="M231.5,425.60 L290.89,425.60 L291.89,425.60 L292.89,425.60 L293.89,425.60 L294.89,425.61 L295.89,425.61 L296.89,425.61 L297.89,425.62 L298.89,425.63 L299.89,425.63 L300.89,425.64 L301.89,425.65 L302.89,425.66 L303.89,425.67 L304.89,425.68 L305.89,425.69 L306.89,425.70 L307.89,425.70 L308.89,425.69 L309.89,425.68 L310.89,425.66 L311.89,425.64 L312.89,425.61 L313.89,425.57 L314.89,425.53 L315.89,425.48 L316.89,425.43 L317.89,425.37 L318.89,425.30 L319.89,425.23 L320.89,425.16 L321.89,425.08 L322.89,424.99 L323.89,424.89 L324.89,424.79 L325.89,424.69 L326.89,424.58 L327.89,424.46 L328.89,424.34 L329.89,424.21 L330.89,424.07 L331.89,423.93 L332.89,423.79 L333.89,423.64 L334.89,423.48 L335.89,423.32 L336.54,423.21 L336.89,423.12 L337.33,423.01 L337.89,423.11 L338.89,423.28 L339.89,423.44 L340.89,423.60 L341.89,423.75 L342.89,423.90 L343.89,424.04 L344.89,424.18 L345.89,424.30 L346.89,424.43 L347.89,424.55 L348.89,424.66 L349.89,424.76 L350.89,424.86 L351.89,424.96 L352.89,425.05 L353.89,425.13 L354.89,425.21 L355.89,425.28 L356.89,425.34 L357.89,425.40 L358.89,425.46 L359.89,425.50 L360.89,425.55 L361.89,425.58 L362.89,425.61 L363.89,425.64 L364.89,425.66 L365.89,425.67 L366.89,425.68 L367.89,425.68 L368.89,425.67 L369.89,425.66 L370.89,425.65 L371.89,425.64 L372.89,425.64 L373.89,425.63 L374.89,425.62 L375.89,425.62 L376.89,425.61 L377.89,425.61 L378.89,425.60 L379.89,425.60 L380.89,425.60 L381.89,425.60 L382.19,425.60 L435.64,425.60 L436.64,425.60 L437.64,425.60 L438.64,425.60 L439.64,425.59 L440.64,425.59 L441.64,425.59 L442.64,425.58 L443.64,425.58 L444.64,425.57 L445.64,425.57 L446.64,425.56 L447.64,425.55 L448.64,425.54 L449.64,425.54 L450.64,425.53 L451.64,425.52 L452.64,425.53 L453.64,425.53 L454.64,425.54 L455.64,425.56 L456.64,425.58 L457.64,425.61 L458.64,425.64 L459.64,425.68 L460.64,425.72 L461.64,425.76 L462.64,425.81 L463.64,425.87 L464.64,425.93 L465.64,426.00 L466.64,426.07 L467.64,426.14 L468.64,426.22 L469.64,426.31 L470.64,426.40 L471.64,426.49 L472.64,426.59 L473.64,426.70 L474.64,426.81 L475.64,426.92 L476.64,427.04 L477.64,427.17 L478.64,427.29 L479.64,427.43 L480.64,427.57 L481.29,427.66 L481.64,427.73 L481.92,427.79 L482.64,427.69 L483.64,427.54 L484.64,427.41 L485.64,427.27 L486.64,427.15 L487.64,427.02 L488.64,426.90 L489.64,426.79 L490.64,426.68 L491.64,426.58 L492.64,426.48 L493.64,426.39 L494.64,426.30 L495.64,426.21 L496.64,426.14 L497.64,426.06 L498.64,425.99 L499.64,425.93 L500.64,425.87 L501.64,425.81 L502.64,425.76 L503.64,425.72 L504.64,425.68 L505.64,425.64 L506.64,425.61 L507.64,425.59 L508.64,425.57 L509.64,425.55 L510.64,425.54 L511.64,425.54 L512.64,425.54 L513.64,425.54 L514.64,425.55 L515.64,425.56 L516.64,425.56 L517.64,425.57 L518.64,425.58 L519.64,425.58 L520.64,425.59 L521.64,425.59 L522.64,425.59 L523.64,425.60 L524.64,425.60 L525.64,425.60 L526.64,425.60 L526.94,425.60 L594.81,425.60" fill="none" stroke="#c9c9c9" stroke-width="1.2"/><path d="M227.2,437.60 L282.75,437.60 L283.75,437.60 L284.75,437.60 L285.75,437.60 L286.75,437.60 L287.75,437.61 L288.75,437.61 L289.75,437.61 L290.75,437.61 L291.75,437.62 L292.75,437.62 L293.75,437.62 L294.75,437.63 L295.75,437.63 L296.75,437.64 L297.75,437.65 L298.75,437.65 L299.75,437.66 L300.75,437.67 L301.75,437.67 L302.75,437.68 L303.75,437.69 L304.75,437.70 L305.75,437.71 L306.75,437.72 L307.75,437.73 L308.75,437.74 L309.75,437.75 L310.75,437.75 L311.75,437.73 L312.75,437.69 L313.75,437.63 L314.75,437.55 L315.75,437.45 L316.75,437.33 L317.75,437.19 L318.75,437.03 L319.75,436.85 L320.75,436.66 L321.75,436.44 L322.75,436.20 L323.75,435.95 L324.75,435.67 L325.75,435.37 L326.75,435.06 L327.75,434.72 L328.75,434.36 L329.75,433.99 L330.75,433.59 L331.75,433.18 L332.75,432.75 L333.75,432.29 L334.40,431.99 L334.75,431.80 L335.75,431.27 L335.76,431.27 L336.75,431.76 L337.75,432.23 L338.75,432.69 L339.75,433.12 L340.75,433.54 L341.75,433.93 L342.75,434.31 L343.75,434.67 L344.75,435.00 L345.75,435.32 L346.75,435.62 L347.75,435.90 L348.75,436.16 L349.75,436.39 L350.75,436.61 L351.75,436.81 L352.75,436.99 L353.75,437.15 L354.75,437.29 L355.75,437.41 L356.75,437.51 L357.75,437.59 L358.75,437.66 L359.75,437.70 L360.75,437.72 L361.75,437.72 L362.75,437.71 L363.75,437.70 L364.75,437.69 L365.75,437.68 L366.75,437.68 L367.75,437.67 L368.75,437.66 L369.75,437.65 L370.75,437.65 L371.75,437.64 L372.75,437.64 L373.75,437.63 L374.75,437.63 L375.75,437.62 L376.75,437.62 L377.75,437.61 L378.75,437.61 L379.75,437.61 L380.75,437.61 L381.75,437.60 L382.75,437.60 L383.75,437.60 L384.75,437.60 L385.75,437.60 L386.05,437.60 L431.83,437.60 L432.83,437.60 L433.83,437.60 L434.83,437.60 L435.83,437.60 L436.83,437.60 L437.83,437.59 L438.83,437.59 L439.83,437.59 L440.83,437.59 L441.83,437.58 L442.83,437.58 L443.83,437.58 L444.83,437.57 L445.83,437.57 L446.83,437.56 L447.83,437.56 L448.83,437.55 L449.83,437.55 L450.83,437.54 L451.83,437.53 L452.83,437.53 L453.83,437.52 L454.83,437.51 L455.83,437.51 L456.83,437.50 L457.83,437.49 L458.83,437.48 L459.83,437.49 L460.83,437.51 L461.83,437.55 L462.83,437.60 L463.83,437.67 L464.83,437.76 L465.83,437.87 L466.83,437.99 L467.83,438.12 L468.83,438.28 L469.83,438.45 L470.83,438.64 L471.83,438.84 L472.83,439.06 L473.83,439.30 L474.83,439.55 L475.83,439.82 L476.83,440.10 L477.83,440.41 L478.83,440.72 L479.83,441.06 L480.83,441.41 L481.83,441.78 L482.83,442.17 L483.48,442.42 L483.83,442.58 L484.58,442.91 L484.83,442.81 L485.83,442.40 L486.83,442.01 L487.83,441.63 L488.83,441.27 L489.83,440.92 L490.83,440.59 L491.83,440.28 L492.83,439.99 L493.83,439.71 L494.83,439.45 L495.83,439.20 L496.83,438.97 L497.83,438.76 L498.83,438.57 L499.83,438.39 L500.83,438.22 L501.83,438.08 L502.83,437.95 L503.83,437.83 L504.83,437.74 L505.83,437.66 L506.83,437.59 L507.83,437.55 L508.83,437.52 L509.83,437.50 L510.83,437.50 L511.83,437.51 L512.83,437.52 L513.83,437.53 L514.83,437.53 L515.83,437.54 L516.83,437.55 L517.83,437.55 L518.83,437.56 L519.83,437.56 L520.83,437.57 L521.83,437.57 L522.83,437.58 L523.83,437.58 L524.83,437.58 L525.83,437.59 L526.83,437.59 L527.83,437.59 L528.83,437.59 L529.83,437.60 L530.83,437.60 L531.83,437.60 L532.83,437.60 L533.83,437.60 L534.83,437.60 L535.13,437.60 L598.91,437.60" fill="none" stroke="#c9c9c9" stroke-width="1.2"/><path d="M218.6,461.50 L266.46,461.50 L267.46,461.50 L268.46,461.50 L269.46,461.50 L270.46,461.50 L271.46,461.50 L272.46,461.50 L273.46,461.50 L274.46,461.50 L275.46,461.51 L276.46,461.51 L277.46,461.51 L278.46,461.51 L279.46,461.51 L280.46,461.51 L281.46,461.51 L282.46,461.52 L283.46,461.52 L284.46,461.52 L285.46,461.52 L286.46,461.53 L287.46,461.53 L288.46,461.53 L289.46,461.53 L290.46,461.54 L291.46,461.54 L292.46,461.54 L293.46,461.55 L294.46,461.55 L295.46,461.55 L296.46,461.56 L297.46,461.56 L298.46,461.56 L299.46,461.57 L300.46,461.57 L301.46,461.58 L302.46,461.58 L303.46,461.59 L304.46,461.59 L305.46,461.60 L306.46,461.59 L307.46,461.57 L308.46,461.52 L309.46,461.45 L310.46,461.37 L311.46,461.26 L312.46,461.13 L313.46,460.98 L314.46,460.81 L315.46,460.61 L316.46,460.40 L317.46,460.17 L318.46,459.91 L319.46,459.63 L320.46,459.34 L321.46,459.02 L322.46,458.68 L323.46,458.32 L324.46,457.93 L325.46,457.53 L326.46,457.11 L327.46,456.66 L328.46,456.20 L329.46,455.71 L330.06,455.41 L330.46,455.20 L331.41,454.68 L331.46,454.71 L332.46,455.24 L333.46,455.74 L334.46,456.23 L335.46,456.69 L336.46,457.13 L337.46,457.56 L338.46,457.96 L339.46,458.34 L340.46,458.70 L341.46,459.03 L342.46,459.35 L343.46,459.65 L344.46,459.92 L345.46,460.17 L346.46,460.41 L347.46,460.62 L348.46,460.81 L349.46,460.98 L350.46,461.13 L351.46,461.26 L352.46,461.36 L353.46,461.45 L354.46,461.51 L355.46,461.56 L356.46,461.58 L357.46,461.58 L358.46,461.58 L359.46,461.57 L360.46,461.57 L361.46,461.56 L362.46,461.56 L363.46,461.56 L364.46,461.55 L365.46,461.55 L366.46,461.55 L367.46,461.54 L368.46,461.54 L369.46,461.54 L370.46,461.53 L371.46,461.53 L372.46,461.53 L373.46,461.53 L374.46,461.52 L375.46,461.52 L376.46,461.52 L377.46,461.52 L378.46,461.51 L379.46,461.51 L380.46,461.51 L381.46,461.51 L382.46,461.51 L383.46,461.51 L384.46,461.51 L385.46,461.50 L386.46,461.50 L387.46,461.50 L388.46,461.50 L389.46,461.50 L390.46,461.50 L391.46,461.50 L392.46,461.50 L393.46,461.50 L393.66,461.50 L424.18,461.50 L425.18,461.50 L426.18,461.50 L427.18,461.50 L428.18,461.50 L429.18,461.50 L430.18,461.50 L431.18,461.50 L432.18,461.50 L433.18,461.50 L434.18,461.49 L435.18,461.49 L436.18,461.49 L437.18,461.49 L438.18,461.49 L439.18,461.49 L440.18,461.49 L441.18,461.49 L442.18,461.48 L443.18,461.48 L444.18,461.48 L445.18,461.48 L446.18,461.48 L447.18,461.47 L448.18,461.47 L449.18,461.47 L450.18,461.47 L451.18,461.46 L452.18,461.46 L453.18,461.46 L454.18,461.45 L455.18,461.45 L456.18,461.45 L457.18,461.45 L458.18,461.44 L459.18,461.44 L460.18,461.43 L461.18,461.43 L462.18,461.43 L463.18,461.42 L464.18,461.43 L465.18,461.46 L466.18,461.50 L467.18,461.56 L468.18,461.64 L469.18,461.73 L470.18,461.85 L471.18,461.98 L472.18,462.13 L473.18,462.29 L474.18,462.47 L475.18,462.68 L476.18,462.89 L477.18,463.13 L478.18,463.38 L479.18,463.66 L480.18,463.95 L481.18,464.25 L482.18,464.58 L483.18,464.92 L484.18,465.28 L485.18,465.65 L486.18,466.05 L487.18,466.46 L487.78,466.72 L488.18,466.90 L488.88,467.21 L489.18,467.08 L490.18,466.64 L491.18,466.22 L492.18,465.82 L493.18,465.44 L494.18,465.07 L495.18,464.72 L496.18,464.39 L497.18,464.08 L498.18,463.78 L499.18,463.50 L500.18,463.24 L501.18,463.00 L502.18,462.77 L503.18,462.56 L504.18,462.37 L505.18,462.20 L506.18,462.04 L507.18,461.91 L508.18,461.79 L509.18,461.68 L510.18,461.60 L511.18,461.53 L512.18,461.48 L513.18,461.45 L514.18,461.43 L515.18,461.43 L516.18,461.44 L517.18,461.44 L518.18,461.44 L519.18,461.45 L520.18,461.45 L521.18,461.45 L522.18,461.46 L523.18,461.46 L524.18,461.46 L525.18,461.47 L526.18,461.47 L527.18,461.47 L528.18,461.47 L529.18,461.48 L530.18,461.48 L531.18,461.48 L532.18,461.48 L533.18,461.48 L534.18,461.49 L535.18,461.49 L536.18,461.49 L537.18,461.49 L538.18,461.49 L539.18,461.49 L540.18,461.49 L541.18,461.49 L542.18,461.50 L543.18,461.50 L544.18,461.50 L545.18,461.50 L546.18,461.50 L547.18,461.50 L548.18,461.50 L549.18,461.50 L550.18,461.50 L551.18,461.50 L551.38,461.50 L607.06,461.50" fill="none" stroke="#c9c9c9" stroke-width="1.2"/><path d="M214.4,473.30 L258.41,473.30 L259.41,473.30 L260.41,473.30 L261.41,473.30 L262.41,473.30 L263.41,473.30 L264.41,473.30 L265.41,473.30 L266.41,473.30 L267.41,473.30 L268.41,473.30 L269.41,473.30 L270.41,473.31 L271.41,473.31 L272.41,473.31 L273.41,473.31 L274.41,473.31 L275.41,473.31 L276.41,473.31 L277.41,473.31 L278.41,473.32 L279.41,473.32 L280.41,473.32 L281.41,473.32 L282.41,473.32 L283.41,473.32 L284.41,473.33 L285.41,473.33 L286.41,473.33 L287.41,473.33 L288.41,473.33 L289.41,473.34 L290.41,473.34 L291.41,473.34 L292.41,473.34 L293.41,473.35 L294.41,473.35 L295.41,473.35 L296.41,473.35 L297.41,473.36 L298.41,473.35 L299.41,473.34 L300.41,473.32 L301.41,473.30 L302.41,473.26 L303.41,473.22 L304.41,473.18 L305.41,473.12 L306.41,473.06 L307.41,473.00 L308.41,472.92 L309.41,472.84 L310.41,472.75 L311.41,472.66 L312.41,472.55 L313.41,472.45 L314.41,472.33 L315.41,472.21 L316.41,472.08 L317.41,471.94 L318.41,471.79 L319.41,471.64 L320.41,471.49 L321.41,471.32 L322.41,471.15 L323.41,470.97 L324.41,470.78 L325.41,470.59 L326.41,470.39 L327.41,470.18 L327.91,470.08 L328.41,469.96 L328.60,469.92 L329.41,470.10 L330.41,470.31 L331.41,470.51 L332.41,470.70 L333.41,470.89 L334.41,471.08 L335.41,471.25 L336.41,471.42 L337.41,471.58 L338.41,471.73 L339.41,471.88 L340.41,472.02 L341.41,472.15 L342.41,472.28 L343.41,472.40 L344.41,472.51 L345.41,472.61 L346.41,472.71 L347.41,472.80 L348.41,472.89 L349.41,472.96 L350.41,473.03 L351.41,473.10 L352.41,473.15 L353.41,473.20 L354.41,473.25 L355.41,473.28 L356.41,473.31 L357.41,473.33 L358.41,473.34 L359.41,473.35 L360.41,473.35 L361.41,473.35 L362.41,473.35 L363.41,473.34 L364.41,473.34 L365.41,473.34 L366.41,473.34 L367.41,473.33 L368.41,473.33 L369.41,473.33 L370.41,473.33 L371.41,473.33 L372.41,473.32 L373.41,473.32 L374.41,473.32 L375.41,473.32 L376.41,473.32 L377.41,473.32 L378.41,473.31 L379.41,473.31 L380.41,473.31 L381.41,473.31 L382.41,473.31 L383.41,473.31 L384.41,473.31 L385.41,473.31 L386.41,473.30 L387.41,473.30 L388.41,473.30 L389.41,473.30 L390.41,473.30 L391.41,473.30 L392.41,473.30 L393.41,473.30 L394.41,473.30 L395.41,473.30 L396.41,473.30 L397.41,473.30 L420.40,473.30 L421.40,473.30 L422.40,473.30 L423.40,473.30 L424.40,473.30 L425.40,473.30 L426.40,473.30 L427.40,473.30 L428.40,473.30 L429.40,473.30 L430.40,473.30 L431.40,473.30 L432.40,473.30 L433.40,473.29 L434.40,473.29 L435.40,473.29 L436.40,473.29 L437.40,473.29 L438.40,473.29 L439.40,473.29 L440.40,473.29 L441.40,473.29 L442.40,473.29 L443.40,473.28 L444.40,473.28 L445.40,473.28 L446.40,473.28 L447.40,473.28 L448.40,473.28 L449.40,473.27 L450.40,473.27 L451.40,473.27 L452.40,473.27 L453.40,473.27 L454.40,473.27 L455.40,473.26 L456.40,473.26 L457.40,473.26 L458.40,473.26 L459.40,473.26 L460.40,473.26 L461.40,473.27 L462.40,473.29 L463.40,473.31 L464.40,473.34 L465.40,473.37 L466.40,473.41 L467.40,473.46 L468.40,473.51 L469.40,473.57 L470.40,473.63 L471.40,473.70 L472.40,473.77 L473.40,473.85 L474.40,473.94 L475.40,474.03 L476.40,474.13 L477.40,474.23 L478.40,474.34 L479.40,474.46 L480.40,474.58 L481.40,474.71 L482.40,474.84 L483.40,474.98 L484.40,475.13 L485.40,475.28 L486.40,475.43 L487.40,475.60 L488.40,475.76 L489.40,475.94 L489.90,476.03 L490.40,476.12 L490.46,476.13 L491.40,475.96 L492.40,475.79 L493.40,475.62 L494.40,475.46 L495.40,475.30 L496.40,475.15 L497.40,475.00 L498.40,474.86 L499.40,474.73 L500.40,474.60 L501.40,474.48 L502.40,474.36 L503.40,474.25 L504.40,474.15 L505.40,474.05 L506.40,473.95 L507.40,473.87 L508.40,473.78 L509.40,473.71 L510.40,473.64 L511.40,473.58 L512.40,473.52 L513.40,473.47 L514.40,473.42 L515.40,473.38 L516.40,473.34 L517.40,473.32 L518.40,473.29 L519.40,473.28 L520.40,473.26 L521.40,473.26 L522.40,473.26 L523.40,473.26 L524.40,473.26 L525.40,473.27 L526.40,473.27 L527.40,473.27 L528.40,473.27 L529.40,473.27 L530.40,473.27 L531.40,473.28 L532.40,473.28 L533.40,473.28 L534.40,473.28 L535.40,473.28 L536.40,473.28 L537.40,473.29 L538.40,473.29 L539.40,473.29 L540.40,473.29 L541.40,473.29 L542.40,473.29 L543.40,473.29 L544.40,473.29 L545.40,473.29 L546.40,473.29 L547.40,473.30 L548.40,473.30 L549.40,473.30 L550.40,473.30 L551.40,473.30 L552.40,473.30 L553.40,473.30 L554.40,473.30 L555.40,473.30 L556.40,473.30 L557.40,473.30 L558.40,473.30 L559.40,473.30 L611.08,473.30" fill="none" stroke="#c9c9c9" stroke-width="1.2"/><path d="M258.7,349.9 L569.0,349.9 L615.4,486.0 L209.8,486.0 Z" fill="none" stroke="#aaaaaa" stroke-width="2.1"/><line x1="350.6" y1="349.9" x2="325.6" y2="486.0" stroke="#a2a2a2" stroke-width="1.9"/><line x1="467.9" y1="349.9" x2="492.2" y2="486.0" stroke="#a2a2a2" stroke-width="1.9"/><path d="M249.9,374.30 L323.62,374.30 L324.62,374.33 L325.62,374.44 L326.62,374.61 L327.62,374.84 L328.62,375.15 L329.62,375.52 L330.62,375.96 L331.62,376.47 L332.62,377.05 L333.62,377.70 L334.62,378.41 L335.62,379.19 L336.62,380.04 L337.62,380.96 L338.62,381.95 L339.62,383.00 L340.62,384.12 L341.62,385.31 L342.62,386.57 L343.62,387.90 L344.62,386.58 L345.62,385.32 L346.62,384.13 L347.62,383.01 L348.62,381.95 L349.62,380.97 L350.62,380.05 L351.62,379.20 L352.62,378.42 L353.62,377.70 L354.62,377.06 L355.62,376.48 L356.62,375.97 L357.62,375.53 L358.62,375.15 L359.62,374.84 L360.62,374.61 L361.62,374.44 L362.62,374.33 L363.62,374.30 L450.31,374.30 L451.31,374.27 L452.31,374.19 L453.31,374.05 L454.31,373.86 L455.31,373.62 L456.31,373.32 L457.31,372.96 L458.31,372.56 L459.31,372.09 L460.31,371.57 L461.31,371.00 L462.31,370.38 L463.31,369.69 L464.31,368.96 L465.31,368.17 L466.31,367.32 L467.31,366.42 L468.31,365.47 L469.31,364.46 L470.31,363.40 L471.31,364.46 L472.31,365.47 L473.31,366.42 L474.31,367.32 L475.31,368.17 L476.31,368.96 L477.31,369.69 L478.31,370.38 L479.31,371.00 L480.31,371.58 L481.31,372.09 L482.31,372.56 L483.31,372.96 L484.31,373.32 L485.31,373.62 L486.31,373.86 L487.31,374.05 L488.31,374.19 L489.31,374.27 L490.31,374.30 L582.80,374.30" fill="none" stroke="#a82830" stroke-width="2.3"/><path d="M222.8,449.80 L314.96,449.80 L315.96,449.76 L316.96,449.65 L317.96,449.47 L318.96,449.21 L319.96,448.88 L320.96,448.48 L321.96,448.00 L322.96,447.45 L323.96,446.82 L324.96,446.12 L325.96,445.35 L326.96,444.51 L327.96,443.59 L328.96,442.59 L329.96,441.53 L330.96,440.39 L331.96,439.18 L332.96,437.89 L333.96,436.53 L334.96,435.10 L335.96,436.54 L336.96,437.90 L337.96,439.18 L338.96,440.40 L339.96,441.53 L340.96,442.60 L341.96,443.59 L342.96,444.51 L343.96,445.36 L344.96,446.13 L345.96,446.83 L346.96,447.45 L347.96,448.00 L348.96,448.48 L349.96,448.88 L350.96,449.21 L351.96,449.47 L352.96,449.65 L353.96,449.76 L354.96,449.80 L467.93,449.80 L468.93,449.83 L469.93,449.92 L470.93,450.08 L471.93,450.29 L472.93,450.57 L473.93,450.91 L474.93,451.31 L475.93,451.77 L476.93,452.29 L477.93,452.88 L478.93,453.52 L479.93,454.23 L480.93,455.00 L481.93,455.83 L482.93,456.72 L483.93,457.67 L484.93,458.69 L485.93,459.77 L486.93,460.90 L487.93,462.10 L488.93,460.90 L489.93,459.76 L490.93,458.68 L491.93,457.67 L492.93,456.72 L493.93,455.83 L494.93,454.99 L495.93,454.23 L496.93,453.52 L497.93,452.87 L498.93,452.29 L499.93,451.77 L500.93,451.31 L501.93,450.91 L502.93,450.57 L503.93,450.29 L504.93,450.08 L505.93,449.92 L506.93,449.83 L507.93,449.80 L603.07,449.80" fill="none" stroke="#a82830" stroke-width="2.3"/><ellipse cx="343.6" cy="385.7" rx="19.5" ry="9.3" fill="none" stroke="#2d424c" stroke-width="1.9"/><ellipse cx="470.0" cy="365.7" rx="19.5" ry="9.3" fill="none" stroke="#2d424c" stroke-width="1.9"/><ellipse cx="335.0" cy="437.6" rx="19.5" ry="9.3" fill="none" stroke="#2d424c" stroke-width="1.9"/><ellipse cx="488.6" cy="459.3" rx="19.5" ry="9.3" fill="none" stroke="#2d424c" stroke-width="1.9"/></g>
<g font-family="Liberation Sans, sans-serif"><text x="480.3" y="115.0" font-size="15.0" fill="#6d6e71" stroke="#6d6e71" stroke-width="0.4" textLength="228.5" lengthAdjust="spacingAndGlyphs">Some charge discharged through</text><text x="480.3" y="132.6" font-size="15.0" fill="#6d6e71" stroke="#6d6e71" stroke-width="0.4" textLength="145.0" lengthAdjust="spacingAndGlyphs">other touching finger</text><text x="630.6" y="280.5" font-size="15.0" fill="#6d6e71" stroke="#6d6e71" stroke-width="0.4" textLength="101.2" lengthAdjust="spacingAndGlyphs">Measurements</text><text x="630.6" y="298.1" font-size="15.0" fill="#6d6e71" stroke="#6d6e71" stroke-width="0.4" textLength="146.6" lengthAdjust="spacingAndGlyphs">rises here (antitouch)</text><text x="630.6" y="316.0" font-size="15.0" fill="#6d6e71" stroke="#6d6e71" stroke-width="0.4" textLength="180.0" lengthAdjust="spacingAndGlyphs">and is detected by X1 bust</text><text x="141.4" y="263.9" font-size="15.0" fill="#6d6e71" stroke="#6d6e71" stroke-width="0.4" textLength="77.3" lengthAdjust="spacingAndGlyphs">Brust on X1</text><text x="583.3" y="210.0" font-size="15.0" fill="#6d6e71" stroke="#6d6e71" stroke-width="0.4" textLength="16.1" lengthAdjust="spacingAndGlyphs">X4</text><text x="609.0" y="261.8" font-size="15.0" fill="#6d6e71" stroke="#6d6e71" stroke-width="0.4" textLength="16.2" lengthAdjust="spacingAndGlyphs">X1</text><text x="315.1" y="330.9" font-size="15.0" fill="#6d6e71" stroke="#6d6e71" stroke-width="0.4" textLength="15.7" lengthAdjust="spacingAndGlyphs">Y1</text><text x="484.4" y="330.5" font-size="15.0" fill="#6d6e71" stroke="#6d6e71" stroke-width="0.4" textLength="16.2" lengthAdjust="spacingAndGlyphs">Y5</text><text x="341.4" y="286.6" font-size="17" fill="#111" stroke="#111" stroke-width="0.4" textLength="46.6" lengthAdjust="spacingAndGlyphs">touch1</text><text x="487.4" y="236.6" font-size="17" fill="#111" stroke="#111" stroke-width="0.4" textLength="47.6" lengthAdjust="spacingAndGlyphs">touch2</text><text x="107.6" y="376.6" font-size="15.0" fill="#6d6e71" stroke="#6d6e71" stroke-width="0.4" textLength="120.4" lengthAdjust="spacingAndGlyphs">Antitouch at X4Y1</text><text x="108.4" y="452.4" font-size="15.0" fill="#6d6e71" stroke="#6d6e71" stroke-width="0.4" textLength="94.0" lengthAdjust="spacingAndGlyphs">Touch at X1Y1</text><text x="598.0" y="374.6" font-size="15.0" fill="#6d6e71" stroke="#6d6e71" stroke-width="0.4" textLength="95.0" lengthAdjust="spacingAndGlyphs">Touch at X4Y5</text><text x="619.0" y="452.6" font-size="15.0" fill="#6d6e71" stroke="#6d6e71" stroke-width="0.4" textLength="121.0" lengthAdjust="spacingAndGlyphs">Antitouch at X1Y5</text></g>
</svg>
</body></html>
